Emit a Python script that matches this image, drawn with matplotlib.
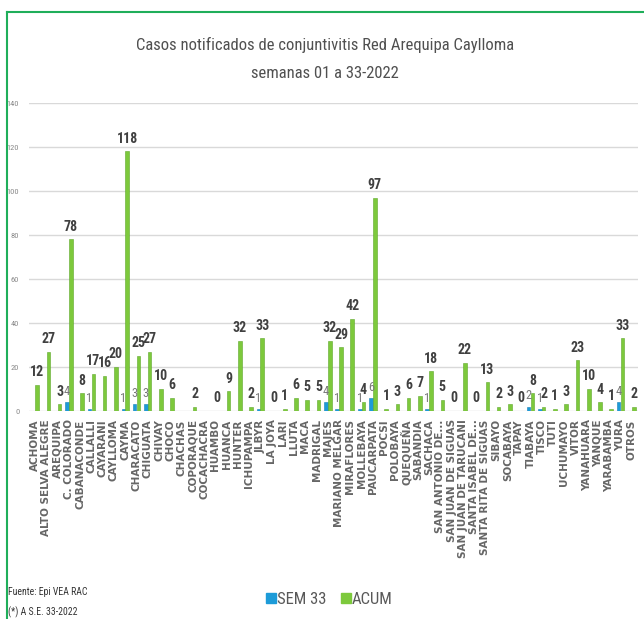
import numpy as np
import matplotlib
matplotlib.use('Agg')
import matplotlib.pyplot as plt
from matplotlib.lines import Line2D

# Datos por distrito
distritos = ['ACHOMA', 'ALTO SELVA ALEGRE', 'AREQUIPA', 'C. COLORADO', 'CABANACONDE',
             'CALLALLI', 'CAYARANI', 'CAYLLOMA', 'CAYMA', 'CHARACATO', 'CHIGUATA',
             'CHIVAY', 'CHOCO', 'CHACHAS', 'COPORAQUE', 'COCACHACRA', 'HUAMBO',
             'HUANCA', 'HUNTER', 'ICHUPAMPA', 'JLBYR', 'LA JOYA', 'LARI', 'LLUTA',
             'MACA', 'MADRIGAL', 'MAJES', 'MARIANO MELGAR', 'MIRAFLORES', 'MOLLEBAYA',
             'PAUCARPATA', 'POCSI', 'POLOBAYA', 'QUEQUEÑA', 'SABANDIA', 'SACHACA',
             'SAN ANTONIO DE...', 'SAN JUAN DE SIGUAS', 'SAN JUAN DE TARUCANI',
             'SANTA ISABEL DE...', 'SANTA RITA DE SIGUAS', 'SIBAYO', 'SOCABAYA',
             'TAPAY', 'TIABAYA', 'TISCO', 'TUTI', 'UCHUMAYO', 'VITOR', 'YANAHUARA',
             'YANQUE', 'YARABAMBA', 'YURA', 'OTROS']

nan = np.nan
sem33 = [nan, nan, nan, 4, nan, 1, nan, nan, 1, 3, 3, nan, nan, nan, nan, nan, nan,
         nan, nan, nan, 1, nan, nan, nan, nan, nan, 4, 1, nan, 1, 6, nan, nan, nan,
         nan, 1, nan, nan, nan, nan, nan, nan, nan, nan, 2, 1, nan, nan, nan, nan,
         nan, nan, 4, nan]
acum = [12, 27, 3, 78, 8, 17, 16, 20, 118, 25, 27, 10, 6, nan, 2, nan, 0, 9, 32, 2,
        33, 0, 1, 6, 5, 5, 32, 29, 42, 4, 97, 1, 3, 6, 7, 18, 5, 0, 22, 0, 13, 2, 3,
        0, 8, 2, 1, 3, 23, 10, 4, 1, 33, 2]

narrow = ['Roboto Condensed', 'DejaVu Sans']
azul = '#1d9bd8'
verde = '#7dc93c'

fig = plt.figure(figsize=(6.44, 6.19), dpi=100)
ax = fig.add_axes([0.045, 0.336, 0.9457, 0.4976])

x = np.arange(len(distritos))
w = 0.32
b1 = ax.bar(x - 0.17, np.nan_to_num(sem33), w, color=azul, edgecolor='#1580b8', linewidth=0.4, zorder=3)
b2 = ax.bar(x + 0.17, np.nan_to_num(acum), w, color=verde, edgecolor='#5ea82a', linewidth=0.4, zorder=3)

lab1 = ['' if np.isnan(v) else '%d' % v for v in sem33]
lab2 = ['' if np.isnan(v) else '%d' % v for v in acum]
ax.bar_label(b1, labels=lab1, padding=3, fontsize=9, color='#7a7a7a', family=narrow)
ax.bar_label(b2, labels=lab2, padding=4, fontsize=10, color='#404040',
             fontweight='bold', family=narrow)

ax.set_xlim(-0.55, len(distritos) - 0.45)
ax.set_ylim(0, 140)
ax.set_yticks(np.arange(0, 141, 20))
ax.yaxis.grid(True, color='#d9d9d9', linewidth=1, zorder=0)
ax.set_axisbelow(True)
for s in ax.spines.values():
    s.set_visible(False)
ax.tick_params(axis='y', length=0, pad=7, labelsize=6, labelcolor='#8a8a8a')
for t in ax.get_yticklabels():
    t.set_family(narrow)
ax.set_xticks(x)
ax.set_xticklabels(distritos, rotation=90, fontsize=7.5, fontweight='bold', color='#666666',
                   family='DejaVu Sans')
ax.tick_params(axis='x', length=0, pad=6)

fig.text(0.505, 0.928, 'Casos notificados de conjuntivitis Red Arequipa Caylloma',
         ha='center', va='center', fontsize=12, color='#505050', family=narrow)
fig.text(0.505, 0.882, 'semanas 01 a 33-2022',
         ha='center', va='center', fontsize=12, color='#505050', family=narrow)

handles = [Line2D([], [], marker='s', linestyle='', markersize=7, color=azul),
           Line2D([], [], marker='s', linestyle='', markersize=7, color=verde)]
fig.legend(handles, ['SEM 33', 'ACUM'], loc='center', bbox_to_anchor=(0.512, 0.032),
           ncol=2, frameon=False, handlelength=0.5, handletextpad=0.1, columnspacing=0.9,
           prop={'family': narrow, 'size': 12}, labelcolor='#595959')

fig.text(0.013, 0.043, 'Fuente: Epi VEA RAC', fontsize=7, family=narrow, va='center', color='#333333')
fig.text(0.013, 0.011, '(*) A S.E. 33-2022', fontsize=7, family=narrow, va='center', color='#333333')

# borde verde
fig.add_artist(Line2D([0.011, 0.011], [0, 0.9806], transform=fig.transFigure, color='#1fae5a', linewidth=1.5))
fig.add_artist(Line2D([0.011, 1], [0.9806, 0.9806], transform=fig.transFigure, color='#1fae5a', linewidth=1.5))

fig.savefig('out.png', dpi=100, facecolor='white')
